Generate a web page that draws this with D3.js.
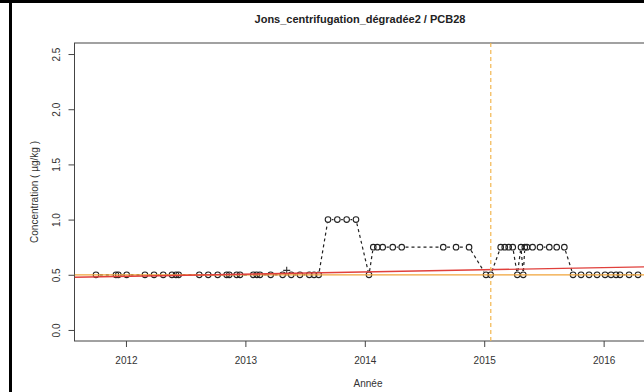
<!DOCTYPE html>
<html lang="fr">
  <head>
    <meta charset="utf-8">
    <title>Jons_centrifugation_dégradée2 / PCB28</title>

    <script type="text/javascript" src="https://d3js.org/d3.v7.min.js"></script>

    <style>
      body {
        margin: 0;
        font-family: 'Liberation Sans', Arial, sans-serif;
        background: #ffffff;
      }
      .axis-text {
        fill: #333333;
        font-size: 10px;
      }
      .obs-line {
        fill: none;
        stroke: #222222;
        stroke-width: 1.2;
        stroke-dasharray: 3, 3;
      }
      .obs-point {
        fill: none;
        stroke: #222222;
        stroke-width: 1.1;
      }
    </style>
  </head>
  <body>
    <div id="chart"></div>

    <script type="text/javascript">

      // data (decimal year, concentration in µg/kg)
      var obsDates = [
        2011.749, 2011.916, 2011.936, 2012.006, 2012.159, 2012.235, 2012.312, 2012.385, 2012.419, 2012.441,
        2012.614, 2012.689, 2012.768, 2012.843, 2012.865, 2012.927, 2012.955, 2013.066, 2013.095, 2013.122,
        2013.212, 2013.312, 2013.384, 2013.457, 2013.535, 2013.575, 2013.614,
        2013.692, 2013.770, 2013.848, 2013.926,
        2014.035,
        2014.071, 2014.105, 2014.150, 2014.234, 2014.309, 2014.657, 2014.764, 2014.873,
        2015.015, 2015.054,
        2015.138, 2015.172, 2015.205, 2015.239, 2015.277, 2015.308, 2015.327, 2015.340, 2015.358,
        2015.405, 2015.467, 2015.545, 2015.607, 2015.671,
        2015.744, 2015.811, 2015.878, 2015.945, 2016.012, 2016.062, 2016.104, 2016.137, 2016.213, 2016.288
      ];
      var obsValues = [
        0.5, 0.5, 0.5, 0.5, 0.5, 0.5, 0.5, 0.5, 0.5, 0.5,
        0.5, 0.5, 0.5, 0.5, 0.5, 0.5, 0.5, 0.5, 0.5, 0.5,
        0.5, 0.5, 0.5, 0.5, 0.5, 0.5, 0.5,
        1.0, 1.0, 1.0, 1.0,
        0.5,
        0.75, 0.75, 0.75, 0.75, 0.75, 0.75, 0.75, 0.75,
        0.5, 0.5,
        0.75, 0.75, 0.75, 0.75, 0.5, 0.75, 0.5, 0.75, 0.75,
        0.75, 0.75, 0.75, 0.75, 0.75,
        0.5, 0.5, 0.5, 0.5, 0.5, 0.5, 0.5, 0.5, 0.5, 0.5
      ];

      var crossDates = [2013.346];
      var crossValues = [0.54];

      var yearTicks = [2012, 2013, 2014, 2015, 2016];
      var concTicks = [0.0, 0.5, 1.0, 1.5, 2.0, 2.5];

      var xExtent = [2011.569, 2016.807];
      var yExtent = [-0.1, 2.6];

      var medianLevel = 0.5;              // orange horizontal line
      var trendEnds = [[2011.569, 0.477], [2016.807, 0.581]]; // red regression line
      var breakDate = 2015.055;           // vertical dashed line

      var titleText = 'Jons_centrifugation_dégradée2 / PCB28';
      var xLabel = 'Année';
      var yLabel = 'Concentration ( µg/kg )';

      var w = 644;
      var h = 392;
      var plot = { left: 74.5, right: 700, top: 43, bottom: 341 };

      var svg = d3.select('#chart')
        .append('svg')
          .attr('width', w)
          .attr('height', h)
          .style('display', 'block');

      var x = d3.scaleLinear()
        .domain(xExtent)
        .range([plot.left, plot.right]);

      var y = d3.scaleLinear()
        .domain(yExtent)
        .range([plot.bottom, plot.top]);

      // outer frame (top + left edges only visible)
      svg.append('line')
        .attr('x1', 0).attr('x2', w)
        .attr('y1', 1.5).attr('y2', 1.5)
        .attr('stroke', '#000').attr('stroke-width', 3);
      svg.append('line')
        .attr('x1', 10.5).attr('x2', 10.5)
        .attr('y1', 0).attr('y2', h)
        .attr('stroke', '#000').attr('stroke-width', 3);

      // title
      svg.append('text')
        .attr('x', 360)
        .attr('y', 23)
        .attr('text-anchor', 'middle')
        .style('font-size', '11px')
        .style('font-weight', 'bold')
        .style('fill', '#222')
        .text(titleText);

      // plot box
      svg.append('rect')
        .attr('x', plot.left)
        .attr('y', plot.top)
        .attr('width', plot.right - plot.left)
        .attr('height', plot.bottom - plot.top)
        .attr('fill', 'none')
        .attr('stroke', '#444')
        .attr('stroke-width', 1);

      // x axis
      var xAxis = d3.axisBottom(x)
        .tickValues(yearTicks)
        .tickFormat(d3.format('d'))
        .tickSize(6)
        .tickPadding(10);

      var gx = svg.append('g')
        .attr('transform', 'translate(0,' + plot.bottom + ')')
        .call(xAxis);
      gx.select('.domain').remove();
      gx.selectAll('line').attr('stroke', '#444');
      gx.selectAll('text').attr('class', 'axis-text').style('font-size', '10px').attr('fill', '#333');

      // y axis
      var yAxis = d3.axisLeft(y)
        .tickValues(concTicks)
        .tickFormat(d3.format('.1f'))
        .tickSize(6);

      var gy = svg.append('g')
        .attr('transform', 'translate(' + plot.left + ',0)')
        .call(yAxis);
      gy.select('.domain').remove();
      gy.selectAll('line').attr('stroke', '#444');
      gy.selectAll('text')
        .attr('x', 0)
        .attr('dy', null)
        .attr('text-anchor', 'middle')
        .attr('transform', 'translate(-15,0) rotate(-90)')
        .attr('fill', '#333')
        .style('font-size', '10px');
      gy.selectAll('.tick text')
        .attr('y', 0);

      // axis titles
      svg.append('text')
        .attr('x', 368)
        .attr('y', 387)
        .attr('text-anchor', 'middle')
        .attr('class', 'axis-text')
        .text(xLabel);

      svg.append('text')
        .attr('transform', 'translate(38,' + ((plot.top + plot.bottom) / 2) + ') rotate(-90)')
        .attr('text-anchor', 'middle')
        .attr('class', 'axis-text')
        .text(yLabel);

      var clip = svg.append('clipPath')
        .attr('id', 'plot-clip')
        .append('rect')
          .attr('x', plot.left)
          .attr('y', plot.top)
          .attr('width', plot.right - plot.left)
          .attr('height', plot.bottom - plot.top);

      var inner = svg.append('g')
        .attr('clip-path', 'url(#plot-clip)');

      // observations joined up, R type "b" style: segments stop short of the circles
      var r = 2.8;
      var gap = r + 1;
      var segs = [];
      for (var i = 0; i < obsDates.length - 1; i++) {
        var x1 = x(obsDates[i]), y1 = y(obsValues[i]);
        var x2 = x(obsDates[i + 1]), y2 = y(obsValues[i + 1]);
        var len = Math.sqrt((x2 - x1) * (x2 - x1) + (y2 - y1) * (y2 - y1));
        if (len > 2 * gap) {
          var ux = (x2 - x1) / len, uy = (y2 - y1) / len;
          segs.push([x1 + ux * gap, y1 + uy * gap, x2 - ux * gap, y2 - uy * gap]);
        }
      }

      inner.selectAll('.obs-line')
        .data(segs)
        .enter()
        .append('line')
          .attr('class', 'obs-line')
          .attr('x1', function(d) { return d[0]; })
          .attr('y1', function(d) { return d[1]; })
          .attr('x2', function(d) { return d[2]; })
          .attr('y2', function(d) { return d[3]; });

      inner.selectAll('.obs-point')
        .data(obsDates)
        .enter()
        .append('circle')
          .attr('class', 'obs-point')
          .attr('cx', function(d) { return x(d); })
          .attr('cy', function(d, i) { return y(obsValues[i]); })
          .attr('r', r);

      // cross marker
      crossDates.forEach(function(d, i) {
        var cx = x(d), cy = y(crossValues[i]);
        inner.append('path')
          .attr('d', 'M' + (cx - 3.5) + ',' + cy + 'H' + (cx + 3.5) + 'M' + cx + ',' + (cy - 3.5) + 'V' + (cy + 3.5))
          .attr('stroke', '#333')
          .attr('stroke-width', 1.1);
      });

      // orange median line
      inner.append('line')
        .attr('x1', x(xExtent[0]))
        .attr('x2', x(xExtent[1]))
        .attr('y1', y(medianLevel))
        .attr('y2', y(medianLevel))
        .attr('stroke', '#f0a43a')
        .attr('stroke-width', 1.3);

      // red trend line
      inner.append('line')
        .attr('x1', x(trendEnds[0][0]))
        .attr('y1', y(trendEnds[0][1]))
        .attr('x2', x(trendEnds[1][0]))
        .attr('y2', y(trendEnds[1][1]))
        .attr('stroke', '#e0403c')
        .attr('stroke-width', 1.4);

      // vertical break line
      inner.append('line')
        .attr('x1', x(breakDate))
        .attr('x2', x(breakDate))
        .attr('y1', plot.top)
        .attr('y2', plot.bottom)
        .attr('stroke', '#f2b650')
        .attr('stroke-width', 1.2)
        .attr('stroke-dasharray', '4,3');

    </script>
  </body>
</html>
